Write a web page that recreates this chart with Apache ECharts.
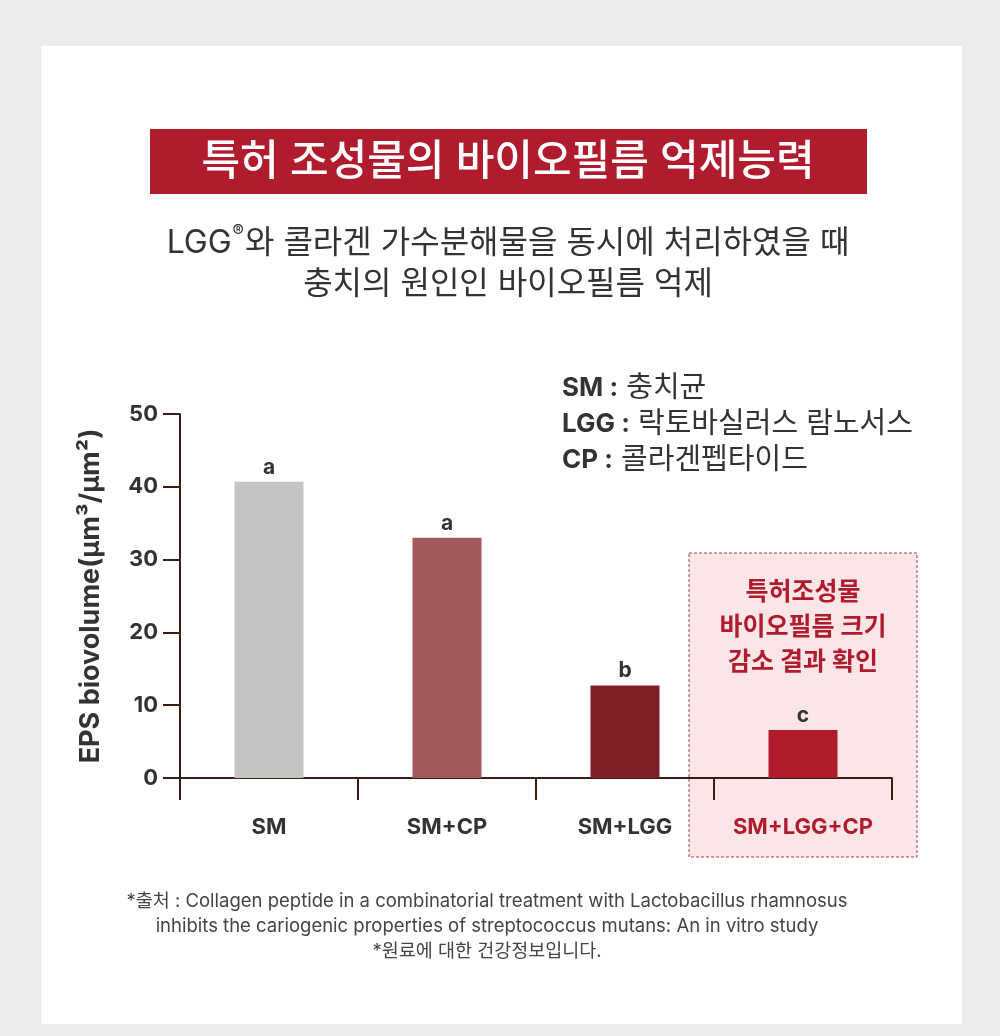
<!DOCTYPE html>
<html>
<head>
    <meta charset="utf-8">
    <script src="https://cdn.jsdelivr.net/npm/echarts@6/dist/echarts.min.js"></script>
</head>
<body style="margin: 0; background: #ebebeb">
    <div style="position: absolute; left: 41px; top: 46px; width: 921px; height: 978px; background: #fff"></div>
    <div id="container" style="position: absolute; left: 0; top: 0; width: 1000px; height: 1036px"></div>
    <script type="text/javascript">
        // data
        var categories = ['SM', 'SM+CP', 'SM+LGG', 'SM+LGG+CP'];
        var values = [40.7, 33.0, 12.7, 6.6];
        var letters = ['a', 'a', 'b', 'c'];
        var barColors = ['#c4c4c4', '#a35a5d', '#7c1f27', '#b01c2e'];
        var yTicks = [0, 10, 20, 30, 40, 50];

        var font = 'Inter, "Noto Sans CJK KR", sans-serif';
        var red = '#b01c2e';
        var axisColor = '#3b1d14';

        var dom = document.getElementById('container');
        var myChart = echarts.init(dom);

        var option = {
            textStyle: { fontFamily: font },
            grid: { left: 180, right: 108, top: 414, bottom: 258 },
            xAxis: {
                type: 'category',
                data: categories,
                axisLine: { lineStyle: { color: axisColor, width: 2 } },
                axisTick: { show: true, interval: 0, length: 22, lineStyle: { color: axisColor, width: 2 } },
                axisLabel: {
                    interval: 0,
                    margin: 38,
                    fontSize: 22,
                    fontWeight: 'bold',
                    color: '#333',
                    fontFamily: font,
                    formatter: function (v, i) {
                        return i === categories.length - 1 ? '{r|' + v + '}' : v;
                    },
                    rich: {
                        r: { color: red, fontSize: 22, fontWeight: 'bold', fontFamily: font }
                    }
                }
            },
            yAxis: {
                type: 'value',
                min: yTicks[0],
                max: yTicks[yTicks.length - 1],
                interval: 10,
                name: 'EPS biovolume(μm³/μm²)',
                nameLocation: 'middle',
                nameRotate: 90,
                nameGap: 76,
                nameTextStyle: { fontSize: 27, fontWeight: 'bold', color: '#333', fontFamily: font },
                splitLine: { show: false },
                axisLine: { show: true, lineStyle: { color: axisColor, width: 2 } },
                axisTick: { show: true, length: 17, lineStyle: { color: axisColor, width: 2 } },
                axisLabel: { margin: 22, fontSize: 22, fontWeight: 'bold', color: '#333', fontFamily: font }
            },
            series: [{
                type: 'bar',
                barWidth: 69,
                data: values.map(function (v, i) {
                    return { value: v, itemStyle: { color: barColors[i] } };
                }),
                label: {
                    show: true,
                    position: 'top',
                    distance: 4,
                    fontSize: 21,
                    fontWeight: 'bold',
                    color: '#333',
                    fontFamily: font,
                    formatter: function (p) { return letters[p.dataIndex]; }
                }
            }],
            graphic: [
                // title band
                { type: 'rect', z: -1, shape: { x: 150, y: 129, width: 717, height: 65 }, style: { fill: red } },
                { type: 'text', style: { x: 508, y: 162, text: '특허 조성물의 바이오필름 억제능력', fill: '#fff', fontSize: 42, fontWeight: 500, fontFamily: font, textAlign: 'center', textVerticalAlign: 'middle' } },
                {
                    type: 'text',
                    style: {
                        x: 508, y: 243,
                        text: '{n|LGG}{s|®}{n|와 콜라겐 가수분해물을 동시에 처리하였을 때}',
                        fill: '#333', fontSize: 32, fontFamily: font, textAlign: 'center', textVerticalAlign: 'middle',
                        rich: {
                            n: { fontSize: 32, fill: '#333', fontFamily: font, lineHeight: 40 },
                            s: { fontSize: 17, fill: '#333', fontFamily: font, lineHeight: 40, verticalAlign: 'top', padding: [0, 1, 14, 1] }
                        }
                    }
                },
                { type: 'text', style: { x: 508, y: 284, text: '충치의 원인인 바이오필름 억제', fill: '#333', fontSize: 32, fontFamily: font, textAlign: 'center', textVerticalAlign: 'middle' } },
                // legend of abbreviations
                {
                    type: 'text',
                    style: {
                        x: 562, y: 370,
                        text: '{b|SM :} 충치균\n{b|LGG :} 락토바실러스 람노서스\n{b|CP :} 콜라겐펩타이드',
                        fill: '#333', fontSize: 29, lineHeight: 36, fontFamily: font,
                        rich: { b: { fontWeight: 'bold', fontSize: 26, fill: '#333', fontFamily: font } }
                    }
                },
                // highlight box
                { type: 'rect', z: -1, shape: { x: 689, y: 553, width: 228, height: 304 }, style: { fill: '#fbe5e6', stroke: '#a8414b', lineWidth: 1, lineDash: [3, 2] } },
                { type: 'text', style: { x: 803, y: 627, text: '특허조성물\n바이오필름 크기\n감소 결과 확인', fill: red, fontSize: 25, fontWeight: 'bold', lineHeight: 35, fontFamily: font, textAlign: 'center', textVerticalAlign: 'middle' } },
                // footnote
                { type: 'text', style: { x: 487, y: 926, text: '*출처 : Collagen peptide in a combinatorial treatment with Lactobacillus rhamnosus\ninhibits the cariogenic properties of streptococcus mutans: An in vitro study\n*원료에 대한 건강정보입니다.', fill: '#444', fontSize: 18.5, lineHeight: 25, fontFamily: font, textAlign: 'center', textVerticalAlign: 'middle' } }
            ]
        };

        if (option && typeof option === "object") {
            myChart.setOption(option, true);
        }
    </script>
</body>
</html>
